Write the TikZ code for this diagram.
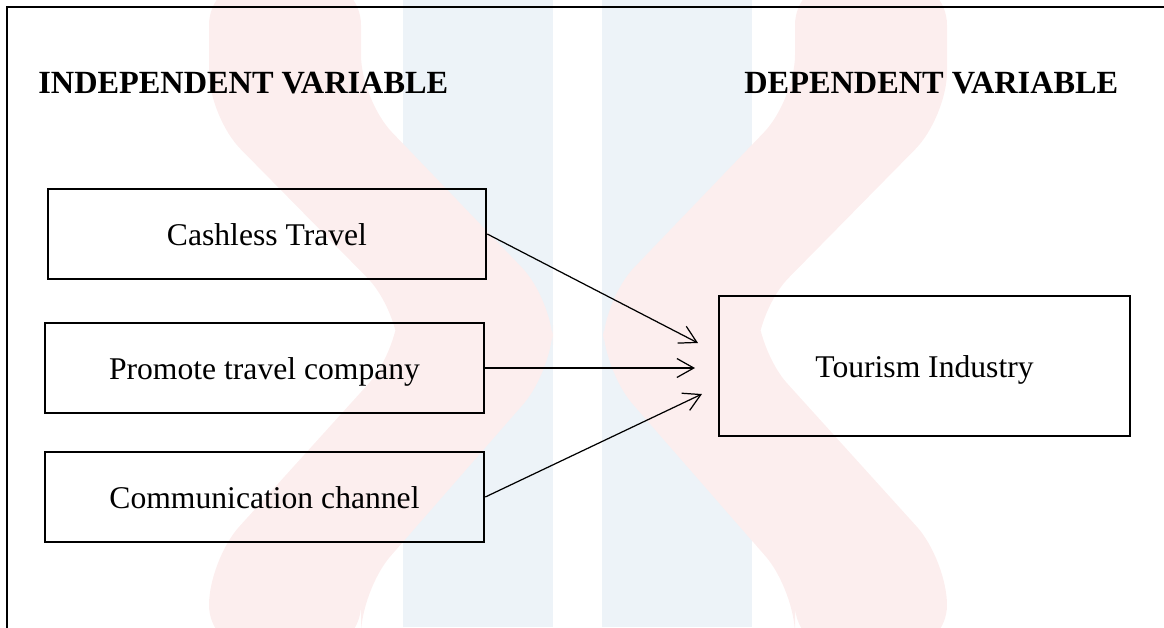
\documentclass[tikz,border=0pt]{standalone}
\usepackage{fontspec}
\setmainfont{Liberation Serif}
\usetikzlibrary{arrows.meta}
\definecolor{wmred}{RGB}{252,238,238}
\definecolor{wmblue}{RGB}{237,243,248}
\tikzstyle{varbox} = [draw, line width=1.5pt, inner sep=0pt, text height=18pt, text depth=4.5pt, font=\fontsize{18}{22}\selectfont]
\tikzstyle{heading} = [inner sep=0pt, anchor=base west, font=\fontsize{18.4}{22}\selectfont\bfseries]
\tikzstyle{link} = [line width=0.7pt, -{Straight Barb[length=9.6pt,width=10.8pt]}]

\begin{document}
\begin{tikzpicture}[x=0.02cm, y=-0.02cm]
       \useasboundingbox (0,0) rectangle (1164,627);
       \begin{scope}
          \clip (0,0) rectangle (1164,627);
          \fill[wmblue] (403,0) rectangle (553,627);
          \fill[wmblue] (602,0) rectangle (752,627);
          \fill[wmred, rounded corners=0.9cm] (209,-20) -- (209,117) -- (399,310) -- (399,350) -- (209,560) -- (209,650)
             -- (361,650) -- (361,590) -- (553,370) -- (553,300) -- (361,100) -- (361,-20) -- cycle;
          \fill[wmred, rounded corners=0.9cm] (947,-20) -- (947,117) -- (757,310) -- (757,350) -- (947,560) -- (947,650)
             -- (795,650) -- (795,590) -- (603,370) -- (603,300) -- (795,100) -- (795,-20) -- cycle;
       \end{scope}
       \draw[line width=1.5pt] (7,640) -- (7,7) -- (1175,7);

       \node[heading] (indep) at (38,93) {INDEPENDENT VARIABLE};
       \node[heading] (dep) at (744,93) {DEPENDENT VARIABLE};

       \node[varbox, minimum width=8.76cm, minimum height=1.8cm] (cash) at (267,234) {Cashless Travel};
       \node[varbox, minimum width=8.78cm, minimum height=1.8cm] (prom) at (264.5,368) {Promote travel company};
       \node[varbox, minimum width=8.78cm, minimum height=1.8cm] (comm) at (264.5,497) {Communication channel};
       \node[varbox, minimum width=8.22cm, minimum height=2.8cm] (tour) at (924.5,366) {Tourism Industry};

       \coordinate (t1) at (698,343);
       \coordinate (t2) at (695,368);
       \coordinate (t3) at (702,394);
       \draw[link] (cash.east) -- (t1);
       \draw[link] (prom.east) -- (t2);
       \draw[link] (comm.east) -- (t3);
     \end{tikzpicture}
\end{document}
